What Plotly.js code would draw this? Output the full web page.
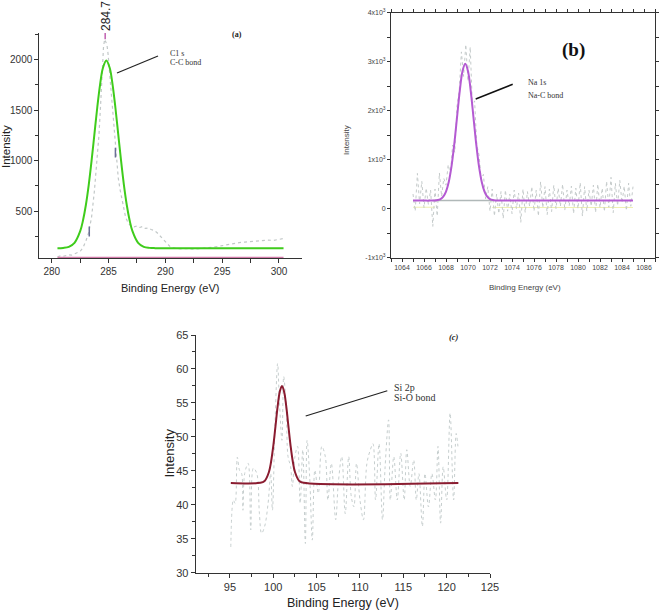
<!DOCTYPE html>
<html>
<head>
<meta charset="utf-8">
<script src="https://cdn.plot.ly/plotly-3.0.1.min.js"></script>
<style>html,body{margin:0;padding:0;background:#fff;}#chart{width:661px;height:612px;}</style>
</head>
<body>
<div id="chart"></div>
<script>
// ---------- Panel (a): C 1s ----------
const aRawX = [280.5,280.75,281.0,281.25,281.5,281.75,282.0,282.25,282.5,282.75,283.0,283.25,283.5,283.75,284.0,284.15,284.3,284.45,284.55,284.65,284.75,284.85,284.95,285.1,285.25,285.4,285.55,285.7,285.85,286.0,286.25,286.5,286.75,287.0,287.25,287.5,287.75,288.0,288.25,288.5,288.75,289.0,289.25,289.5,289.75,290.0,290.25,290.5,290.75,291.0,291.5,292.0,292.5,293.0,293.5,294.0,294.5,295.0,295.5,296.0,296.5,297.0,297.5,298.0,298.5,299.0,299.5,300.0,300.5];
const aRawY = [50,58,55,64,70,66,80,92,104,140,205,290,440,700,1010,1250,1560,1900,2120,2200,2170,2150,2060,1850,1580,1370,1180,980,830,720,560,440,380,350,345,355,340,350,330,335,320,310,290,260,225,190,160,140,138,130,128,132,125,130,135,140,150,160,170,185,190,195,200,205,210,215,212,225,232];
const aFitX = [280.5,281,281.5,282,282.5,282.75,283,283.25,283.5,283.75,284,284.25,284.5,284.8,285.1,285.35,285.6,285.85,286.1,286.35,286.6,286.85,287.1,287.6,288.1,288.6,289.1,290,300.4];
const aFitY = [135.4,137.7,148.3,188,303,411,562,759,997,1260,1523,1752,1916,1990,1916,1752,1523,1260,997,759,562,411,303,188,148,138,135.4,135,135];
const aBaseX = [280.5,300.4];
const aBaseY = [42,42];
const aPeakMarkX = [284.7,284.7];
const aPeakMarkY = [2200,2262];
const aDashX = [283.3,285.6];
const aDashY = [300,1080];
const aXTicks = [280,285,290,295,300];
const aYTicks = [500,1000,1500,2000];

// ---------- Panel (b): Na 1s ----------
const bRawX = [1065,1065.2,1065.4,1065.6,1065.8,1066,1066.2,1066.4,1066.6,1066.8,1067,1067.2,1067.4,1067.6,1067.8,1068,1068.2,1068.4,1068.6,1068.8,1069,1069.2,1069.4,1069.6,1069.8,1070,1070.2,1070.4,1070.6,1070.8,1071,1071.2,1071.4,1071.6,1071.8,1072,1072.2,1072.4,1072.6,1072.8,1073,1073.2,1073.4,1073.6,1073.8,1074,1074.2,1074.4,1074.6,1074.8,1075,1075.2,1075.4,1075.6,1075.8,1076,1076.2,1076.4,1076.6,1076.8,1077,1077.2,1077.4,1077.6,1077.8,1078,1078.2,1078.4,1078.6,1078.8,1079,1079.2,1079.4,1079.6,1079.8,1080,1080.2,1080.4,1080.6,1080.8,1081,1081.2,1081.4,1081.6,1081.8,1082,1082.2,1082.4,1082.6,1082.8,1083,1083.2,1083.4,1083.6,1083.8,1084,1084.2,1084.4,1084.6,1084.8,1085];
const bRawY = [300,-50,720,100,560,20,420,80,380,-360,400,-150,730,250,620,480,900,700,1300,1150,2100,2400,3200,2700,3350,2600,3300,2100,2200,1300,1100,600,700,200,450,-50,400,-150,300,-100,350,-200,380,-50,300,-100,380,0,320,-280,400,-80,350,50,450,-50,380,-150,550,20,450,-120,400,-60,480,0,420,50,500,-30,380,60,460,-100,420,0,530,-150,450,-50,380,50,480,-80,500,20,420,-60,560,30,640,-80,520,60,580,120,460,-40,520,50,450];
const bFitX = [1065,1066,1066.5,1067,1067.25,1067.5,1067.75,1068,1068.25,1068.5,1068.75,1069,1069.25,1069.5,1069.75,1070,1070.25,1070.5,1070.75,1071,1071.25,1071.5,1071.75,1072,1072.25,1072.5,1073,1085];
const bFitY = [165,165,165,168,176,196,245,348,543,862,1313,1859,2401,2807,2958,2807,2401,1859,1313,862,543,348,245,196,176,168,165,165];
const bBgX = [1066.8,1072.3];
const bBgY = [168,168];
const bYelX = [1065,1067,null,1072.2,1085];
const bYelY = [30,30,null,25,25];
const bXTicks = [1064,1066,1068,1070,1072,1074,1076,1078,1080,1082,1084,1086];
const bYTicks = [-1000,0,1000,2000,3000,4000];
const bYTickText = ['-1x10<sup>3</sup>','0','1x10<sup>3</sup>','2x10<sup>3</sup>','3x10<sup>3</sup>','4x10<sup>3</sup>'];

// ---------- Panel (c): Si 2p ----------
const cRawX = [95.1,95.4,95.6,95.85,96.1,96.35,96.5,96.7,97.1,97.4,97.7,98.1,98.4,98.65,99.0,99.4,99.7,99.9,100.2,100.5,100.7,101.0,101.2,101.5,101.7,102.0,102.2,102.5,102.8,103.1,103.4,103.7,103.9,104.2,104.5,104.8,105.2,105.6,106.0,106.3,106.7,107.2,107.5,107.9,108.3,108.7,109.0,109.3,109.6,110.0,110.4,110.8,111.2,111.5,111.8,112.2,112.6,112.9,113.3,113.5,113.9,114.3,114.7,115.1,115.4,115.8,116.2,116.5,116.8,117.2,117.5,117.9,118.3,118.7,119.0,119.3,119.6,120.0,120.4,120.8,121.1,121.3];
const cRawY = [33.8,40.7,40.2,47.0,45.1,44.6,39.2,44.6,46.1,36.3,45.4,44.6,38.7,35.8,36.8,40.2,44.6,39.2,52.0,60.8,55.4,49.5,58.9,54.0,47.1,45.6,42.7,47.1,48.6,40.2,48.1,34.3,49.5,44.1,34.8,45.1,41.7,48.6,47.1,40.7,46.1,37.8,43.2,47.1,38.7,47.1,41.2,39.7,46.1,40.7,37.8,46.1,48.1,49.0,40.7,49.0,37.8,45.6,52.5,40.7,47.1,40.7,47.6,40.7,48.1,42.7,46.6,40.7,44.6,36.8,44.6,39.7,44.6,40.7,48.6,37.3,45.6,40.7,53.5,40.7,50.5,48.6];
const cFitX = [95.1,98.5,99,99.5,99.75,100,100.25,100.5,100.75,101,101.25,101.5,101.75,102,102.25,102.5,103,103.5,121.35];
const cFitY = [43.2,43.23,43.5,44.83,46.37,48.65,51.51,54.44,56.66,57.5,56.66,54.44,51.51,48.65,46.37,44.83,43.5,43.23,43.2];
const cXTicks = [95,100,105,110,115,120,125];
const cYTicks = [30,35,40,45,50,55,60,65];

const W = 661, H = 612;
const px = v => v / W;
const py = v => 1 - v / H;

const serif = 'Liberation Serif, Times New Roman, serif';
const traces = [
  {x:aRawX, y:aRawY, xaxis:'x', yaxis:'y', mode:'lines', line:{color:'#c2c8c8', width:1.2, dash:'dot'}, hoverinfo:'skip'},
  {x:aBaseX, y:aBaseY, xaxis:'x', yaxis:'y', mode:'lines', line:{color:'#d27aa8', width:1.5}},
  {x:aFitX, y:aFitY, xaxis:'x', yaxis:'y', mode:'lines', line:{color:'#3fcc1c', width:2, shape:'spline'}},
  {x:aPeakMarkX, y:aPeakMarkY, xaxis:'x', yaxis:'y', mode:'lines', line:{color:'#c060b0', width:1.5}},
  {x:aDashX, y:aDashY, xaxis:'x', yaxis:'y', mode:'markers', marker:{symbol:'line-ns', size:7, line:{color:'#6a6f95', width:1.5}}},

  {x:bYelX, y:bYelY, xaxis:'x2', yaxis:'y2', mode:'lines', line:{color:'#efefb0', width:1}},
  {x:bRawX, y:bRawY, xaxis:'x2', yaxis:'y2', mode:'lines', line:{color:'#c4caca', width:1, dash:'dot'}},
  {x:bBgX, y:bBgY, xaxis:'x2', yaxis:'y2', mode:'lines', line:{color:'#b0b8b8', width:1.5}},
  {x:bFitX, y:bFitY, xaxis:'x2', yaxis:'y2', mode:'lines', line:{color:'#b45ad2', width:2, shape:'spline'}},

  {x:cRawX, y:cRawY, xaxis:'x3', yaxis:'y3', mode:'lines', line:{color:'#c6cece', width:1, dash:'dot', shape:'spline'}},
  {x:cFitX, y:cFitY, xaxis:'x3', yaxis:'y3', mode:'lines', line:{color:'#8a1c30', width:2, shape:'spline'}}
];

const axBase = {showline:true, linecolor:'#333', linewidth:1, ticks:'outside', ticklen:4, tickcolor:'#333', tickwidth:1, showgrid:false, zeroline:false, fixedrange:true};

const layout = {
  width:W, height:H, showlegend:false,
  margin:{l:0, r:0, t:0, b:0, pad:0},
  paper_bgcolor:'#fff', plot_bgcolor:'rgba(0,0,0,0)',
  font:{family:'Arial, Liberation Sans, sans-serif', color:'#333'},
  xaxis: Object.assign({}, axBase, {domain:[px(39.3), px(301.7)], range:[278.9, 302], anchor:'y',
    tickmode:'array', tickvals:aXTicks, tickfont:{size:10, color:'#333'},
    minor:{ticks:'outside', dtick:2.5, tick0:0, ticklen:4, tickcolor:'#333'}}),
  yaxis: Object.assign({}, axBase, {domain:[py(258), py(33)], range:[38, 2262], anchor:'x',
    tickmode:'array', tickvals:aYTicks, tickfont:{size:10, color:'#333'},
    minor:{ticks:'outside', dtick:250, tick0:0, ticklen:3, tickcolor:'#333'}}),

  xaxis2: Object.assign({}, axBase, {domain:[px(391), px(655)], range:[1063, 1087], anchor:'y2', mirror:'ticks',
    tickmode:'array', tickvals:bXTicks, tickfont:{size:7, color:'#444'}, ticklen:3,
    minor:{ticks:'outside', dtick:1, tick0:0, ticklen:3, tickcolor:'#333'}}),
  yaxis2: Object.assign({}, axBase, {domain:[py(257.7), py(12.7)], range:[-1000, 4000], anchor:'x2', mirror:'ticks',
    tickmode:'array', tickvals:bYTicks, ticktext:bYTickText, tickfont:{size:7, color:'#444'}, ticklen:3,
    minor:{ticks:'outside', dtick:500, tick0:0, ticklen:3, tickcolor:'#333'}}),

  xaxis3: Object.assign({}, axBase, {domain:[px(195.7), px(490)], range:[91.05, 125], anchor:'y3',
    tickmode:'array', tickvals:cXTicks, tickfont:{size:11, color:'#333'},
    minor:{ticks:'outside', dtick:2.5, tick0:0, ticklen:3, tickcolor:'#333'}}),
  yaxis3: Object.assign({}, axBase, {domain:[py(572.7), py(335)], range:[30, 65], anchor:'x3',
    tickmode:'array', tickvals:cYTicks, tickfont:{size:11, color:'#333'},
    minor:{ticks:'outside', dtick:2.5, tick0:0, ticklen:3, tickcolor:'#333'}}),

  annotations: [
    {text:'Intensity', x:px(6), y:py(147), xref:'paper', yref:'paper', textangle:-90, showarrow:false, xanchor:'center', yanchor:'middle', font:{size:11.5, color:'#222'}},
    {text:'Binding Energy (eV)', x:px(170), y:py(288), xref:'paper', yref:'paper', showarrow:false, xanchor:'center', yanchor:'middle', font:{size:11, color:'#222'}},
    {text:'284.7', x:px(106), y:py(16), xref:'paper', yref:'paper', textangle:-90, showarrow:false, xanchor:'center', yanchor:'middle', font:{size:12, color:'#222'}},
    {text:'<b>(a)</b>', x:px(237), y:py(34), xref:'paper', yref:'paper', showarrow:false, xanchor:'center', yanchor:'middle', font:{size:8, family:serif, color:'#222'}},
    {text:'C1 s', x:px(168), y:py(53), xref:'paper', yref:'paper', showarrow:false, xanchor:'left', yanchor:'middle', font:{size:8, family:serif, color:'#333'}},
    {text:'C-C bond', x:px(168), y:py(63), xref:'paper', yref:'paper', showarrow:false, xanchor:'left', yanchor:'middle', font:{size:8, family:serif, color:'#333'}},

    {text:'Intensity', x:px(347), y:py(140), xref:'paper', yref:'paper', textangle:-90, showarrow:false, xanchor:'center', yanchor:'middle', font:{size:8, color:'#444'}},
    {text:'Binding Energy (eV)', x:px(525), y:py(287), xref:'paper', yref:'paper', showarrow:false, xanchor:'center', yanchor:'middle', font:{size:8, color:'#444'}},
    {text:'<b>(b)</b>', x:px(573), y:py(50), xref:'paper', yref:'paper', showarrow:false, xanchor:'center', yanchor:'middle', font:{size:19, family:serif, color:'#111'}},
    {text:'Na 1s', x:px(526), y:py(83), xref:'paper', yref:'paper', showarrow:false, xanchor:'left', yanchor:'middle', font:{size:8, family:serif, color:'#333'}},
    {text:'Na-C bond', x:px(526), y:py(95), xref:'paper', yref:'paper', showarrow:false, xanchor:'left', yanchor:'middle', font:{size:8, family:serif, color:'#333'}},

    {text:'Intensity', x:px(168.5), y:py(453), xref:'paper', yref:'paper', textangle:-90, showarrow:false, xanchor:'center', yanchor:'middle', font:{size:13, color:'#222'}},
    {text:'Binding Energy (eV)', x:px(342.7), y:py(603), xref:'paper', yref:'paper', showarrow:false, xanchor:'center', yanchor:'middle', font:{size:12.5, color:'#222'}},
    {text:'<b><i>(c)</i></b>', x:px(454), y:py(337), xref:'paper', yref:'paper', showarrow:false, xanchor:'center', yanchor:'middle', font:{size:8.5, family:serif, color:'#222'}},
    {text:'Si 2p', x:px(392), y:py(387), xref:'paper', yref:'paper', showarrow:false, xanchor:'left', yanchor:'middle', font:{size:10, family:serif, color:'#333'}},
    {text:'Si-O bond', x:px(392), y:py(397.5), xref:'paper', yref:'paper', showarrow:false, xanchor:'left', yanchor:'middle', font:{size:10, family:serif, color:'#333'}}
  ],
  shapes: [
    {type:'line', xref:'paper', yref:'paper', x0:px(117), y0:py(73), x1:px(158), y1:py(56), line:{color:'#222', width:1.2}},
    {type:'line', xref:'paper', yref:'paper', x0:px(475.7), y0:py(99), x1:px(512.7), y1:py(84.3), line:{color:'#111', width:1.5}},
    {type:'line', xref:'paper', yref:'paper', x0:px(305.7), y0:py(416), x1:px(387.3), y1:py(390.7), line:{color:'#222', width:1.2}}
  ]
};

Plotly.newPlot('chart', traces, layout, {staticPlot:true, displayModeBar:false});
</script>
</body>
</html>
